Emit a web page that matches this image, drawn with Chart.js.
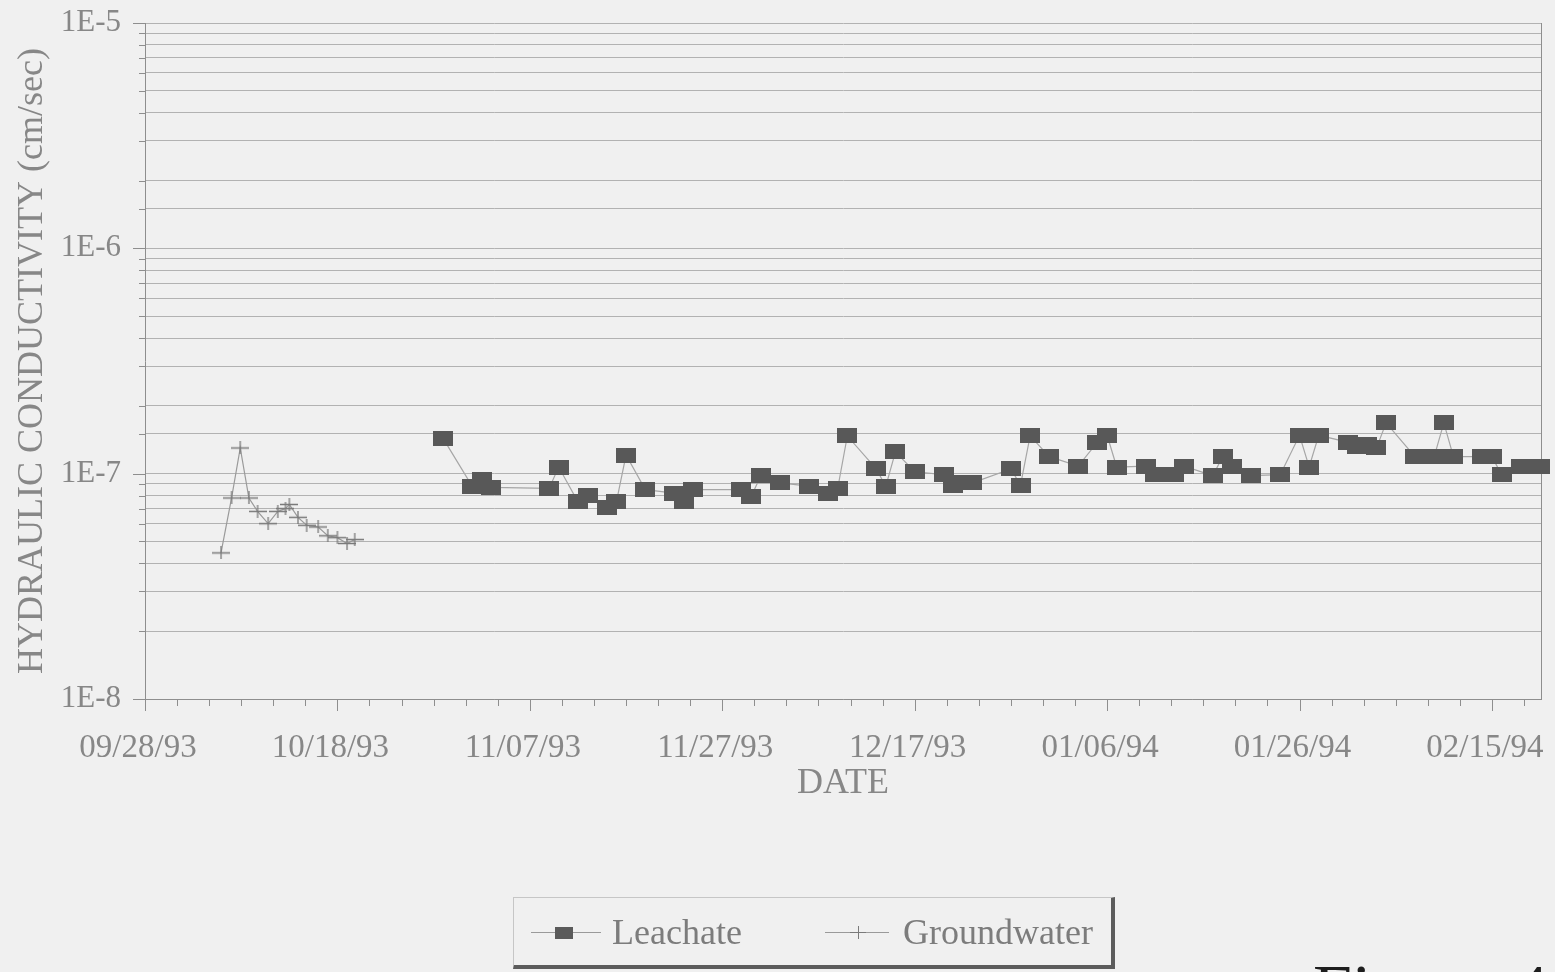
<!DOCTYPE html>
<html>
<head>
<meta charset="utf-8">
<script src="https://cdn.jsdelivr.net/npm/chart.js"></script>
<title>Hydraulic Conductivity</title>
<style>
    html, body { margin: 0; padding: 0; background: #f0f0f0; overflow: hidden; }
    #wrap { position: relative; width: 1555px; height: 972px; }
    #legend {
        position: absolute; left: 513px; top: 897px; width: 597px; height: 67px;
        border: 1px solid #c6c6c6; border-right: 4px solid #5c5c5c; border-bottom: 4px solid #5c5c5c;
        font-family: "Liberation Serif", serif; font-size: 36px; color: #7c7c7c;
    }
    #legend .line { position: absolute; top: 34px; height: 1px; background: #9a9a9a; }
    #legend .sq { position: absolute; top: 29px; width: 18px; height: 12px; background: #5a5a5a; }
    #legend .ph { position: absolute; top: 34px; width: 16px; height: 1px; background: #7a7a7a; }
    #legend .pv { position: absolute; top: 28px; width: 1px; height: 13px; background: #7a7a7a; }
    #legend .txt { position: absolute; top: 14px; line-height: 40px; }
    #fig { position: absolute; left: 1313px; top: 955px; font-family: "Liberation Serif", serif;
           font-size: 70px; line-height: 70px; color: #1e1e1e; white-space: nowrap; }
</style>
</head>
<body>
<div id="wrap">
    <canvas id="kChart" width="1555" height="972"></canvas>
    <div id="legend">
        <div class="line" style="left:17px; width:70px"></div>
        <div class="sq" style="left:41px"></div>
        <span class="txt" style="left:98px">Leachate</span>
        <div class="line" style="left:311px; width:64px"></div>
        <div class="ph" style="left:336px"></div>
        <div class="pv" style="left:344px"></div>
        <span class="txt" style="left:389px">Groundwater</span>
    </div>
    <div id="fig">Figure 4</div>
</div>

<script>
// x values are days elapsed since 09/28/93
const xTickDays = [0, 20, 40, 60, 80, 100, 120, 140];
const xTickLabels = ['09/28/93', '10/18/93', '11/07/93', '11/27/93', '12/17/93', '01/06/94', '01/26/94', '02/15/94'];
const yTickValues = [1e-8, 1e-7, 1e-6, 1e-5];
const yTickLabels = ['1E-8', '1E-7', '1E-6', '1E-5'];

const leachateDays = [31, 34, 35, 36, 42, 43, 45, 46, 48, 49, 50, 52, 55, 56, 57, 62, 63, 64, 66, 69,
    71, 72, 73, 76, 77, 78, 80, 83, 84, 85, 86, 90, 91, 92, 94, 97, 99, 100, 101, 104,
    105, 106, 107, 108, 111, 112, 113, 115, 118, 120, 121, 122, 125, 126, 127, 128, 129, 132, 133, 134,
    135, 136, 139, 140, 141, 143, 144, 145];
const leachateK = [1.43e-7, 8.8e-8, 9.4e-8, 8.7e-8, 8.6e-8, 1.07e-7, 7.5e-8, 8.0e-8, 7.1e-8, 7.5e-8, 1.21e-7, 8.5e-8, 8.2e-8, 7.5e-8, 8.5e-8, 8.5e-8, 7.9e-8, 9.8e-8, 9.1e-8, 8.8e-8,
    8.2e-8, 8.6e-8, 1.47e-7, 1.05e-7, 8.8e-8, 1.25e-7, 1.02e-7, 9.9e-8, 8.9e-8, 9.1e-8, 9.1e-8, 1.05e-7, 8.9e-8, 1.47e-7, 1.19e-7, 1.08e-7, 1.38e-7, 1.48e-7, 1.07e-7, 1.08e-7,
    9.9e-8, 9.9e-8, 9.9e-8, 1.08e-7, 9.8e-8, 1.19e-7, 1.08e-7, 9.8e-8, 9.9e-8, 1.48e-7, 1.07e-7, 1.48e-7, 1.38e-7, 1.32e-7, 1.35e-7, 1.30e-7, 1.68e-7, 1.19e-7, 1.19e-7, 1.19e-7,
    1.68e-7, 1.19e-7, 1.19e-7, 1.19e-7, 9.9e-8, 1.08e-7, 1.08e-7, 1.08e-7];

const groundwaterDays = [7.9, 9.0, 9.9, 10.8, 11.7, 12.8, 13.8, 14.6, 15.0, 15.9, 16.8, 18.0, 19.0, 20.0, 21.0, 21.8];
const groundwaterK = [4.45e-8, 7.8e-8, 1.30e-7, 7.8e-8, 6.8e-8, 6.0e-8, 6.8e-8, 7.0e-8, 7.3e-8, 6.4e-8, 5.9e-8, 5.8e-8, 5.3e-8, 5.2e-8, 4.9e-8, 5.1e-8];

const X_MAX = 145.1;
const FONT = '"Liberation Serif", "Times New Roman", serif';
const TEXT = '#878787';

function rectMarker(w, h, color) {
    const c = document.createElement('canvas');
    c.width = w; c.height = h;
    const g = c.getContext('2d');
    g.fillStyle = color;
    g.fillRect(0, 0, w, h);
    return c;
}

function plusMarker(w, h, color) {
    const c = document.createElement('canvas');
    c.width = w; c.height = h;
    const g = c.getContext('2d');
    g.strokeStyle = color;
    g.lineWidth = 1.3;
    g.beginPath();
    g.moveTo(0, h / 2); g.lineTo(w, h / 2);
    g.moveTo(w / 2, 0); g.lineTo(w / 2, h);
    g.stroke();
    return c;
}

function isDecade(v) {
    const e = Math.log10(v);
    return Math.abs(e - Math.round(e)) < 1e-6;
}

function isMajorDay(v) {
    return xTickDays.some(d => Math.abs(d - v) < 1e-6);
}

// tick marks of two lengths plus the right-hand frame line
const frameTicks = {
    id: 'frameTicks',
    beforeDatasetsDraw(chart) {
        const { ctx, chartArea: a, scales: { x, y } } = chart;
        ctx.save();
        ctx.strokeStyle = '#8e8e8e';
        ctx.lineWidth = 1;
        ctx.beginPath();
        y.ticks.forEach(t => {
            const py = Math.round(y.getPixelForValue(t.value)) + 0.5;
            const len = isDecade(t.value) ? 12 : 6;
            ctx.moveTo(a.left - len, py);
            ctx.lineTo(a.left, py);
        });
        x.ticks.forEach(t => {
            const px = Math.round(x.getPixelForValue(t.value)) + 0.5;
            const len = isMajorDay(t.value) ? 12 : 7;
            ctx.moveTo(px, a.bottom);
            ctx.lineTo(px, a.bottom + len);
        });
        ctx.moveTo(Math.round(a.right) + 0.5, a.top);
        ctx.lineTo(Math.round(a.right) + 0.5, a.bottom);
        ctx.stroke();
        ctx.restore();
    }
};

const ctx = document.getElementById('kChart').getContext('2d');

new Chart(ctx, {
    type: 'line',
    data: {
        datasets: [{
            label: 'Leachate',
            data: leachateDays.map((d, i) => ({ x: d, y: leachateK[i] })),
            borderColor: '#a6a6a6',
            borderWidth: 1.2,
            pointStyle: rectMarker(20, 15, '#585858'),
            pointRadius: 10,
            tension: 0,
            clip: false
        }, {
            label: 'Groundwater',
            data: groundwaterDays.map((d, i) => ({ x: d, y: groundwaterK[i] })),
            borderColor: '#9a9a9a',
            borderWidth: 1.2,
            pointStyle: plusMarker(18, 13, '#7a7a7a'),
            pointRadius: 9,
            tension: 0,
            clip: false
        }]
    },
    options: {
        responsive: false,
        animation: false,
        devicePixelRatio: 1,
        layout: { padding: { left: 0, right: 14, top: 23, bottom: 0 } },
        plugins: { legend: { display: false }, tooltip: { enabled: false } },
        scales: {
            x: {
                type: 'linear',
                min: 0,
                max: X_MAX,
                afterFit: (s) => { s.height = 273; },
                afterBuildTicks: (axis) => {
                    const ticks = [];
                    for (let i = 0; i * 20 / 6 <= X_MAX + 1e-9; i++) ticks.push({ value: i * 20 / 6 });
                    axis.ticks = ticks;
                },
                grid: { drawOnChartArea: false, drawTicks: true, tickLength: 12, tickColor: 'rgba(0,0,0,0)' },
                border: { display: true, color: '#8e8e8e' },
                ticks: {
                    autoSkip: false,
                    maxRotation: 0,
                    padding: 18,
                    labelOffset: -7,
                    color: TEXT,
                    font: { family: FONT, size: 33 },
                    callback: (v) => {
                        const i = xTickDays.findIndex(d => Math.abs(d - v) < 1e-6);
                        return i >= 0 ? xTickLabels[i] : '';
                    }
                },
                title: {
                    display: true,
                    text: 'DATE',
                    color: TEXT,
                    font: { family: FONT, size: 36 },
                    padding: { top: 0, bottom: 167 }
                }
            },
            y: {
                type: 'logarithmic',
                min: 1e-8,
                max: 1e-5,
                afterFit: (s) => { s.width = 145; s.paddingTop = 0; s.paddingBottom = 0; },
                grid: { color: '#b2b2b2', lineWidth: 1, drawTicks: true, tickLength: 12, tickColor: 'rgba(0,0,0,0)' },
                border: { display: true, color: '#8e8e8e' },
                ticks: {
                    autoSkip: false,
                    padding: 12,
                    color: TEXT,
                    font: { family: FONT, size: 31 },
                    callback: (v) => {
                        const i = yTickValues.findIndex(t => Math.abs(v / t - 1) < 1e-6);
                        return i >= 0 ? yTickLabels[i] : '';
                    }
                },
                title: {
                    display: true,
                    text: 'HYDRAULIC CONDUCTIVITY (cm/sec)',
                    color: TEXT,
                    font: { family: FONT, size: 36 },
                    padding: { top: 11, bottom: 0 }
                }
            }
        }
    },
    plugins: [frameTicks]
});
</script>
</body>
</html>
